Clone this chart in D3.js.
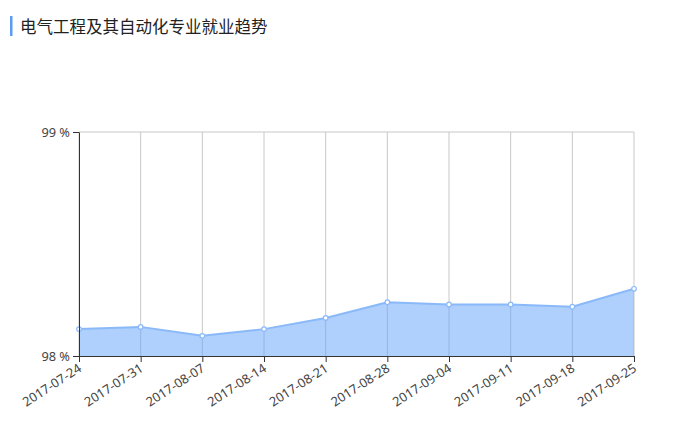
<!DOCTYPE html>
<html>
<head>
<meta charset="utf-8">
<script src="https://cdn.jsdelivr.net/npm/d3@7/dist/d3.min.js"></script>
<style>
  body { margin: 0; background: #fff; }
  svg { display: block; }
  .axis text { font-family: "Noto Sans", "Open Sans", sans-serif; font-size: 12.8px; fill: #444; }
</style>
</head>
<body>
<div class="canvas"></div>
<script>
// Data
const dates = ["2017-07-24", "2017-07-31", "2017-08-07", "2017-08-14", "2017-08-21",
  "2017-08-28", "2017-09-04", "2017-09-11", "2017-09-18", "2017-09-25"];
const rates = [98.12, 98.13, 98.09, 98.12, 98.17, 98.24, 98.23, 98.23, 98.22, 98.30];
const yTicks = [98, 99];
const title = "电气工程及其自动化专业就业趋势";

const width = 674, height = 422;
const margin = { top: 132, right: 40, bottom: 66, left: 79 };
const innerW = width - margin.left - margin.right;
const innerH = height - margin.top - margin.bottom;

const svg = d3.select(".canvas").append("svg")
  .attr("width", width).attr("height", height);

// Title with blue bar
svg.append("rect").attr("x", 10).attr("y", 16).attr("width", 2.5).attr("height", 20).attr("fill", "#5b9cf5");
svg.append("text").attr("x", 20).attr("y", 33)
  .attr("font-family", '"Noto Sans CJK SC", sans-serif')
  .attr("font-size", 16.5).attr("fill", "#222")
  .text(title);

const graph = svg.append("g").attr("transform", `translate(${margin.left},${margin.top})`);

// Scales
const x = d3.scalePoint().domain(dates).range([0, innerW]);
const y = d3.scaleLinear().domain([98, 99]).range([innerH, 0]);

// Gridlines
graph.append("g").selectAll("line").data(dates).join("line")
  .attr("x1", (d) => x(d)).attr("x2", (d) => x(d))
  .attr("y1", 0).attr("y2", innerH)
  .attr("stroke", "#c8c8c8").attr("stroke-width", 1);
graph.append("g").selectAll("line").data(yTicks.slice(1)).join("line")
  .attr("x1", 0).attr("x2", innerW)
  .attr("y1", (d) => y(d)).attr("y2", (d) => y(d))
  .attr("stroke", "#c8c8c8").attr("stroke-width", 1);

// Area + line
const area = d3.area().x((d, i) => x(dates[i])).y0(innerH).y1((d) => y(d));
const line = d3.line().x((d, i) => x(dates[i])).y((d) => y(d));

graph.append("path").datum(rates).attr("d", area)
  .attr("fill", "#5fa0fa").attr("fill-opacity", 0.5);
graph.append("path").datum(rates).attr("d", line)
  .attr("fill", "none").attr("stroke", "#8ab9fa").attr("stroke-width", 2);

graph.append("g").selectAll("circle").data(rates).join("circle")
  .attr("cx", (d, i) => x(dates[i])).attr("cy", (d) => y(d))
  .attr("r", 2.3).attr("fill", "#fff").attr("stroke", "#8ab9fa").attr("stroke-width", 1.2);

// Axes
const xAxis = d3.axisBottom(x).tickSize(6).tickSizeOuter(0);
const xg = graph.append("g").attr("class", "axis").attr("transform", `translate(0,${innerH})`).call(xAxis);
xg.select(".domain").attr("stroke", "#333");
xg.selectAll(".tick line").attr("stroke", "#333");
xg.selectAll("text")
  .attr("text-anchor", "end")
  .attr("x", 0).attr("y", 0)
  .attr("dx", 0).attr("dy", "0.7em")
  .attr("transform", "translate(-2,7) rotate(-33)");

const yAxis = d3.axisLeft(y).tickValues(yTicks).tickFormat((d) => `${d} %`).tickSize(6).tickSizeOuter(0);
const yg = graph.append("g").attr("class", "axis").call(yAxis);
yg.select(".domain").attr("stroke", "#333");
yg.selectAll(".tick line").attr("stroke", "#333");
yg.selectAll("text").attr("dy", "0.35em");
</script>
</body>
</html>
